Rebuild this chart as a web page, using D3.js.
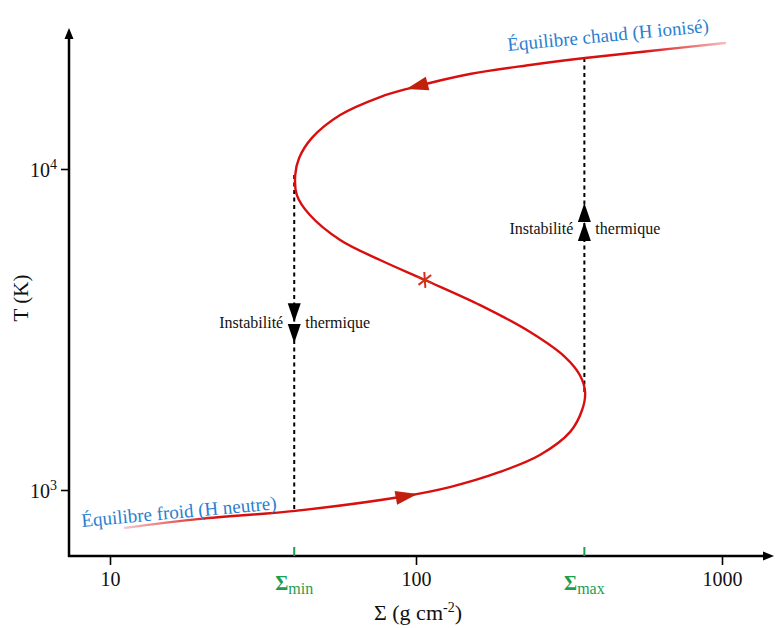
<!DOCTYPE html>
<html>
<head>
<meta charset="utf-8">
<script src="https://cdn.jsdelivr.net/npm/d3@7"></script>
<style>
  body { margin: 0; background: #fff; }
  svg { display: block; }
  text { font-family: "Liberation Serif", "DejaVu Serif", serif; }
</style>
</head>
<body>
<svg id="chart" width="775" height="628"></svg>
<script>
// S-curve of thermal equilibrium: surface density Σ (g cm-2) vs temperature T (K)
const sigma = [11.2, 19.7, 40.3, 88.7, 129, 188, 254, 319, 349, 357, 343, 307, 236, 162, 107,
               76.3, 56.5, 45.0, 40.8, 40.3, 41.5, 45.7, 56.5, 76.3, 95.6, 150, 236, 357, 582, 1023];
const temperature = [762, 813, 861, 951, 1021, 1138, 1285, 1517, 1775, 2018, 2282, 2596, 3105, 3767, 4510,
                     5207, 6012, 7190, 8297, 9579, 10820, 12500, 14730, 16760, 17870, 19770, 21090, 22170, 23320, 24700];
const xTicks = [10, 100, 1000];
const yTicks = [1000, 10000];
const sigmaMin = 40, sigmaMax = 355;
// vertical jumps of the limit cycle (T from → T to)
const dropMin = [9579, 865];
const riseMax = [2018, 22170];
// flow arrows along the curve: [Σ, T, direction]
const flowArrows = [[101, 972, 1], [93, 17700, -1]];
const unstablePoint = [107, 4510];
// stacked arrowheads on the jumps (tip temperatures)
const dropTips = [3330, 2871];
const riseTips = [7834, 6836];

const svg = d3.select("#chart");
const x = d3.scaleLog().domain([10, 1000]).range([110, 722]);
const y = d3.scaleLog().domain([1000, 10000]).range([490, 169]);

const frame = { left: 69, bottom: 556, top: 28, right: 774 };
const red = "#d90f0f", darkRed = "#c2200c", blue = "#2b7fcf", green = "#1d9d4f";

const defs = svg.append("defs");
const grad = defs.append("linearGradient").attr("id", "fade")
  .attr("gradientUnits", "userSpaceOnUse")
  .attr("x1", 120).attr("x2", 728).attr("y1", 0).attr("y2", 0);
[[0, 0.2], [0.16, 1], [0.86, 1], [1, 0.25]].forEach(([o, a]) =>
  grad.append("stop").attr("offset", o).attr("stop-color", red).attr("stop-opacity", a));

// axes frame
svg.append("line").attr("x1", frame.left).attr("x2", frame.left)
  .attr("y1", frame.bottom + 1).attr("y2", frame.top + 8)
  .attr("stroke", "#000").attr("stroke-width", 2.5);
svg.append("path").attr("d", `M${frame.left},${frame.top} l-4.5,11 h9 z`).attr("fill", "#000");
svg.append("line").attr("x1", frame.left - 1).attr("x2", frame.right - 8)
  .attr("y1", frame.bottom).attr("y2", frame.bottom)
  .attr("stroke", "#000").attr("stroke-width", 2.5);
svg.append("path").attr("d", `M${frame.right},${frame.bottom} l-11,-4.5 v9 z`).attr("fill", "#000");

// x ticks
const xAxis = svg.append("g").attr("transform", `translate(0,${frame.bottom})`)
  .call(d3.axisBottom(x).tickValues(xTicks).tickSize(9).tickFormat(d3.format("d")));
xAxis.select(".domain").remove();
xAxis.selectAll(".tick line").attr("stroke", "#000").attr("stroke-width", 1.6);
xAxis.selectAll(".tick text").attr("font-size", 20).attr("dy", 0).attr("y", 30).attr("fill", "#111");

// y ticks with powers of ten
const yAxis = svg.append("g").attr("transform", `translate(${frame.left},0)`)
  .call(d3.axisLeft(y).tickValues(yTicks).tickSize(8).tickFormat(""));
yAxis.select(".domain").remove();
yAxis.selectAll(".tick line").attr("stroke", "#000").attr("stroke-width", 1.6);
yAxis.selectAll(".tick").append("text")
  .attr("x", -12).attr("y", 7).attr("text-anchor", "end").attr("fill", "#111").attr("font-size", 20)
  .each(function (d) {
    const t = d3.select(this);
    t.append("tspan").text("10");
    t.append("tspan").attr("dy", -8).attr("font-size", 14).text(Math.round(Math.log10(d)));
  });

// Σmin / Σmax markers on the x axis
[[sigmaMin, "min"], [sigmaMax, "max"]].forEach(([v, sub]) => {
  svg.append("line").attr("x1", x(v)).attr("x2", x(v))
    .attr("y1", frame.bottom - 9).attr("y2", frame.bottom)
    .attr("stroke", green).attr("stroke-width", 2);
  const t = svg.append("text").attr("x", x(v)).attr("y", frame.bottom + 34)
    .attr("text-anchor", "middle").attr("fill", green).attr("font-size", 20);
  t.append("tspan").attr("font-weight", "bold").text("Σ");
  t.append("tspan").attr("dy", 4).attr("font-size", 16).text(sub);
});

// axis titles
const xt = svg.append("text").attr("x", 418).attr("y", 620).attr("text-anchor", "middle")
  .attr("font-size", 22).attr("fill", "#111");
xt.append("tspan").text("Σ (g cm");
xt.append("tspan").attr("dy", -8).attr("font-size", 14).text("-2");
xt.append("tspan").attr("dy", 8).text(")");
svg.append("text").attr("transform", "translate(28,298) rotate(-90)")
  .attr("text-anchor", "middle").attr("font-size", 21).attr("fill", "#111").text("T (K)");

// thermal-instability jumps (dashed)
const dash = (v, [t0, t1]) => svg.append("line")
  .attr("x1", x(v)).attr("x2", x(v)).attr("y1", y(t0)).attr("y2", y(t1))
  .attr("stroke", "#000").attr("stroke-width", 2).attr("stroke-dasharray", "4,3.5");
dash(sigmaMin, dropMin);
dash(sigmaMax, riseMax);

const arrowHead = (cx, cy, dir, len, half, fill) => {
  // dir: +1 down, -1 up; tip at (cx, cy)
  svg.append("path")
    .attr("d", `M${cx},${cy} L${cx - half},${cy - dir * len} L${cx + half},${cy - dir * len} Z`)
    .attr("fill", fill);
};
dropTips.forEach(t => arrowHead(x(sigmaMin), y(t), 1, 19, 6.5, "#000"));
riseTips.forEach(t => arrowHead(x(sigmaMax), y(t), -1, 19, 6.5, "#000"));

const label = (xp, yp, anchor, s) => svg.append("text").attr("x", xp).attr("y", yp)
  .attr("text-anchor", anchor).attr("font-size", 16).attr("fill", "#111").text(s);
label(x(sigmaMin) - 11, 328, "end", "Instabilité");
label(x(sigmaMin) + 11, 328, "start", "thermique");
label(x(sigmaMax) - 11, 234, "end", "Instabilité");
label(x(sigmaMax) + 11, 234, "start", "thermique");

// equilibrium curve
const pts = sigma.map((s, i) => [x(s), y(temperature[i])]);
const curve = svg.append("path")
  .attr("d", d3.line().curve(d3.curveCatmullRom.alpha(0.5))(pts))
  .attr("fill", "none").attr("stroke", "url(#fade)").attr("stroke-width", 2.4)
  .attr("stroke-linecap", "round");

const node = curve.node();
const total = node.getTotalLength();
function nearest(px, py) {
  let best = 0, bd = Infinity;
  for (let l = 0; l <= total; l += 0.5) {
    const p = node.getPointAtLength(l);
    const d = (p.x - px) ** 2 + (p.y - py) ** 2;
    if (d < bd) { bd = d; best = l; }
  }
  const a = node.getPointAtLength(Math.max(0, best - 3));
  const b = node.getPointAtLength(Math.min(total, best + 3));
  const p = node.getPointAtLength(best);
  return { p, angle: Math.atan2(b.y - a.y, b.x - a.x) * 180 / Math.PI };
}

flowArrows.forEach(([s, t, dir]) => {
  const { p, angle } = nearest(x(s), y(t));
  const ang = dir > 0 ? angle : angle + 180;
  svg.append("path").attr("d", "M0,0 L-22,-7 L-22,7 Z")
    .attr("transform", `translate(${p.x},${p.y}) rotate(${ang})`)
    .attr("fill", darkRed);
});

{
  const { p, angle } = nearest(x(unstablePoint[0]), y(unstablePoint[1]));
  const g = svg.append("g").attr("transform", `translate(${p.x},${p.y}) rotate(${angle})`);
  [0, 62, -62].forEach(a => g.append("line")
    .attr("x1", -8).attr("x2", 8).attr("transform", `rotate(${a})`)
    .attr("stroke", "#d2301a").attr("stroke-width", 2));
}

// branch labels
svg.append("text").attr("transform", "translate(82,527) rotate(-5.2)")
  .attr("font-size", 19).attr("fill", blue).text("Équilibre froid (H neutre)");
svg.append("text").attr("transform", "translate(508,51) rotate(-5.4)")
  .attr("font-size", 19).attr("fill", blue).text("Équilibre chaud (H ionisé)");
</script>
</body>
</html>
